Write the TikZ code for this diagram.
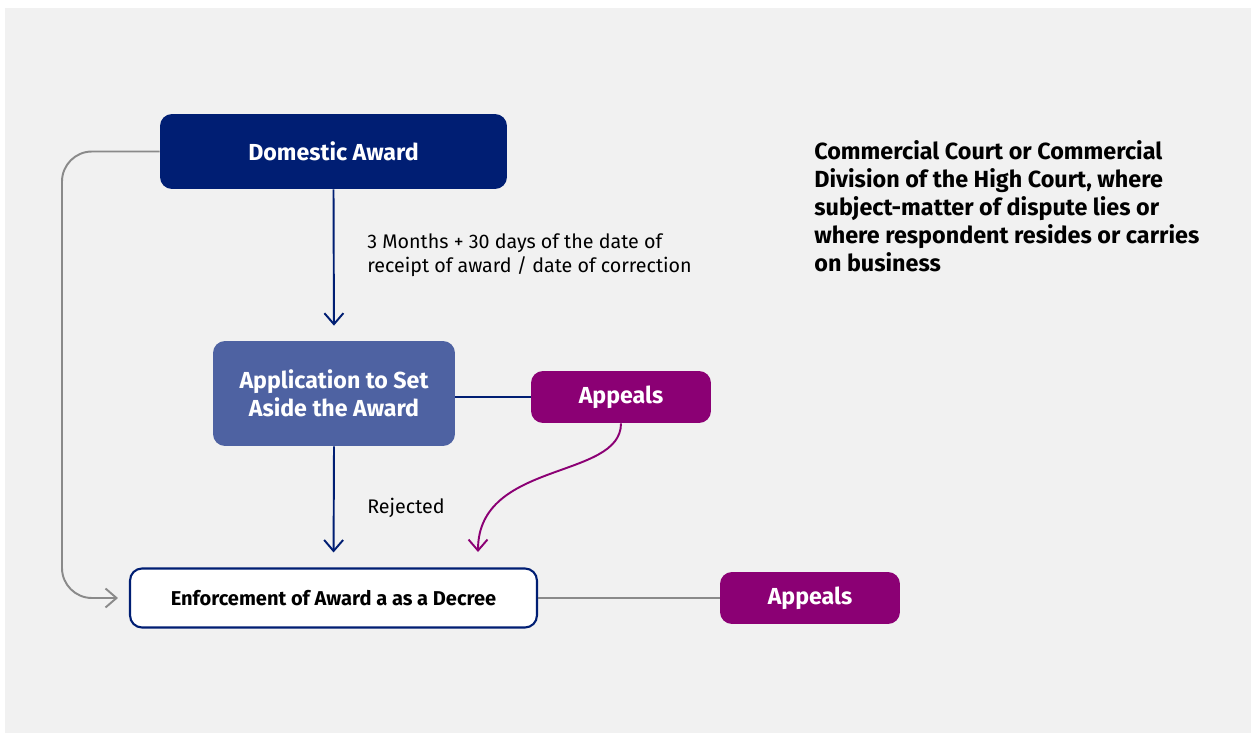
\documentclass[tikz,border=0pt]{standalone}
\usepackage{fontspec}
\setmainfont{Fira Sans}
\usepackage{tikz}
\usetikzlibrary{arrows.meta,backgrounds,calc}
\definecolor{navy}{HTML}{001E73}
\definecolor{steel}{HTML}{4E62A2}
\definecolor{plum}{HTML}{8B0074}
\definecolor{bggray}{HTML}{F1F1F1}
\definecolor{linegray}{HTML}{8A8A8A}

\begin{document}
\begin{tikzpicture}[x=0.02cm,y=-0.02cm,
  box/.style={rounded corners=0.24cm, align=center, inner sep=0pt, text=white,
    font=\bfseries\fontsize{13.2}{15.8}\selectfont},
  flow/.style={line width=1.1pt, -{Straight Barb[length=0.22cm,width=0.38cm]}, shorten >=0.3cm},
  note/.style={align=left, inner sep=0pt, anchor=north west}]
\useasboundingbox (0,0) rectangle (1251,733);
\fill[bggray] (5,8) rectangle (1251,733);

% boxes
\node[box, fill=navy, minimum width=6.94cm, minimum height=1.5cm] (dom) at (333.5,151.5) {Domestic Award};
\node[box, fill=steel, minimum width=4.84cm, minimum height=2.1cm] (app) at (334,393.5) {Application to Set\\Aside the Award};
\node[box, fill=plum, minimum width=3.6cm, minimum height=1.04cm] (apone) at (621,397) {Appeals};
\node[box, fill=white, draw=navy, line width=1.2pt, text=black, minimum width=8.14cm, minimum height=1.18cm,
  font=\bfseries\fontsize{11.4}{13}\selectfont] (enf) at (333.5,598) {Enforcement of Award a as a Decree};
\node[box, fill=plum, minimum width=3.6cm, minimum height=1.04cm] (aptwo) at (810,598) {Appeals};
\coordinate (tip) at (478,567);

% texts
\node[note, font=\fontsize{11.2}{13.6}\selectfont] (time) at (367,233)
  {3 Months + 30 days of the date of\\receipt of award / date of correction};
\node[note, font=\fontsize{11.2}{13.6}\selectfont] (rej) at (367,498) {Rejected};
\node[note, font=\bfseries\fontsize{13.3}{15.9}\selectfont] (court) at (814,140)
  {Commercial Court or Commercial\\Division of the High Court, where\\subject-matter of dispute lies or\\where respondent resides or carries\\on business};

% connectors
\draw[flow, navy] (dom.south) -- (app.north);
\draw[flow, navy] (app.south) -- (enf.north);
\draw[line width=1.1pt, navy] (app.east |- apone.west) -- (apone.west);
\draw[flow, plum] (apone.south) .. controls (621,480) and (478,460) .. (tip);
\draw[flow, linegray, rounded corners=0.6cm, shorten >=0.22cm] (dom.west) -- (62,151.5) -- (62,598) -- (enf.west);
\draw[line width=1.1pt, linegray] (enf.east) -- (aptwo.west);
\end{tikzpicture}
\end{document}
